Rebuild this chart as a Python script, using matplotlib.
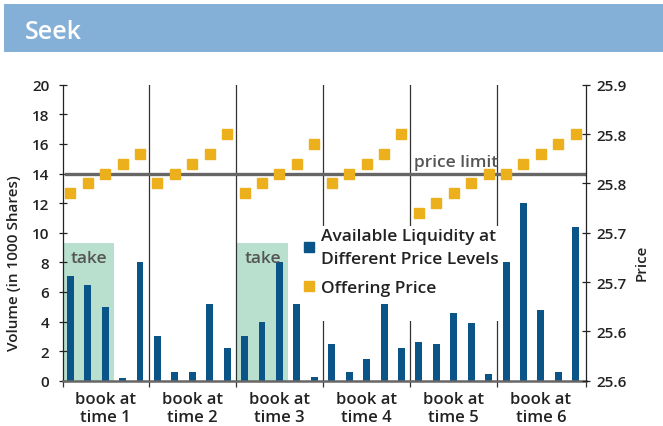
import matplotlib
matplotlib.use("Agg")
import matplotlib.pyplot as plt
from matplotlib.patches import Rectangle
from matplotlib.lines import Line2D
import numpy as np

plt.rcParams['font.family'] = ['Open Sans', 'DejaVu Sans']

# ---------------- data ----------------
group_labels = ["book at\ntime 1", "book at\ntime 2", "book at\ntime 3",
                "book at\ntime 4", "book at\ntime 5", "book at\ntime 6"]
bars_per_group = 5

volume_t1 = [7.1, 6.5, 5.0, 0.2, 8.0]
volume_t2 = [3.0, 0.6, 0.6, 5.2, 2.2]
volume_t3 = [3.0, 4.0, 8.0, 5.2, 0.25]
volume_t4 = [2.5, 0.6, 1.5, 5.2, 2.2]
volume_t5 = [2.6, 2.5, 4.6, 3.9, 0.45]
volume_t6 = [8.0, 12.0, 4.8, 0.6, 10.4]

price_t1 = [25.79, 25.80, 25.81, 25.82, 25.83]
price_t2 = [25.80, 25.81, 25.82, 25.83, 25.85]
price_t3 = [25.79, 25.80, 25.81, 25.82, 25.84]
price_t4 = [25.80, 25.81, 25.82, 25.83, 25.85]
price_t5 = [25.77, 25.78, 25.79, 25.80, 25.81]
price_t6 = [25.81, 25.82, 25.83, 25.84, 25.85]

price_limit = 25.81
take_groups = [0, 2]
take_height = 9.3

volume_ticks = [0, 2, 4, 6, 8, 10, 12, 14, 16, 18, 20]
price_ticks = [25.60, 25.65, 25.70, 25.75, 25.80, 25.85, 25.90]
price_tick_labels = ["25.6", "25.6", "25.7", "25.7", "25.8", "25.8", "25.9"]

legend_labels = ["Available Liquidity at\nDifferent Price Levels", "Offering Price"]

volume = volume_t1 + volume_t2 + volume_t3 + volume_t4 + volume_t5 + volume_t6
offer_price = price_t1 + price_t2 + price_t3 + price_t4 + price_t5 + price_t6

# ---------------- style ----------------
BLUE = '#0a5487'
ORANGE = '#edb01d'
TAKE = '#b9e0cf'
HEADER = '#84b0d8'
DARK = '#222222'
GRAY = '#555555'

W, H = 663, 427
fig = plt.figure(figsize=(W / 100, H / 100), dpi=100)


def fx(px):
    return px / W


def fy(py):
    return 1 - py / H


# header band + title
fig.patches.append(Rectangle((fx(4), fy(52.7)), 1 - fx(4), (52.7 - 5) / H,
                             transform=fig.transFigure, facecolor=HEADER,
                             edgecolor='none', zorder=0))
fig.text(fx(25), fy(39), "Seek", color='white', fontsize=18,
         fontweight='semibold', ha='left', va='baseline')

ax1 = fig.add_axes([fx(63.3), fy(381.7), fx(585.7) - fx(63.3), (381.7 - 85.7) / H])
ax2 = ax1.twinx()

n = len(volume)
x = np.arange(n) // bars_per_group * bars_per_group + np.arange(n) % bars_per_group
xlim = (-0.4, n - 0.43)

# take regions
for g in take_groups:
    left = g * bars_per_group - 0.45
    ax1.add_patch(Rectangle((left, 0), 2.95, take_height, facecolor=TAKE,
                            edgecolor='none', zorder=0.5))
    ax1.text(left + 0.47, 8.05, "take", color=GRAY, fontsize=12.5,
             fontweight='semibold', ha='left', va='baseline', zorder=3)

# separators
seps = [g * bars_per_group - 0.5 for g in range(1, len(group_labels))]
for s in seps:
    ax1.axvline(s, color='#333333', lw=0.9, zorder=1)

# white box behind legend
ax1.add_patch(Rectangle((12.6, 4.05), 12.1, 6.42, facecolor='white',
                        edgecolor='none', zorder=1.5))

ax1.bar(x, volume, width=0.4, color=BLUE, zorder=2)

ax1.set_xlim(*xlim)
ax1.set_ylim(0, 20)
ax1.set_yticks(volume_ticks)
ax1.set_xticks([g * bars_per_group + 2 for g in range(len(group_labels))])
ax1.set_xticklabels(group_labels, fontsize=12, fontweight='semibold',
                    color=DARK, linespacing=1.15)
ax1.set_xticks([xlim[0]] + seps + [xlim[1]], minor=True)
ax1.tick_params(axis='x', which='major', length=0, pad=7.5)
ax1.tick_params(axis='x', which='minor', direction='out', length=4.3,
                width=0.9, color='#333333')
ax1.tick_params(axis='y', direction='inout', length=6, width=0.9,
                color='#222222', pad=7, labelsize=11, labelcolor=DARK)
for lab in ax1.get_yticklabels():
    lab.set_fontweight('semibold')

for side in ['top', 'right']:
    ax1.spines[side].set_visible(False)
ax1.spines['left'].set_color('#222222')
ax1.spines['left'].set_linewidth(0.9)
ax1.spines['bottom'].set_color('#666666')
ax1.spines['bottom'].set_linewidth(1.8)

# price axis
ax2.set_ylim(25.6, 25.9)
ax2.axhline(price_limit, xmin=0.006, xmax=1, color='#666666', lw=2.4, zorder=2)
ax2.plot(x, offer_price, linestyle='none', marker='s', markersize=7.2,
         color=ORANGE, zorder=3)
ax2.annotate("price limit", xy=(19.72, price_limit), xytext=(0, 5.6),
             textcoords='offset points', color=GRAY, fontsize=12.5,
             fontweight='semibold', ha='left', va='baseline')
ax2.set_yticks(price_ticks)
ax2.set_yticklabels(price_tick_labels)
ax2.tick_params(axis='y', direction='inout', length=6, width=0.9,
                color='#222222', pad=5, labelsize=11, labelcolor=DARK)
for lab in ax2.get_yticklabels():
    lab.set_fontweight('semibold')
for side in ['top', 'left', 'bottom']:
    ax2.spines[side].set_visible(False)
ax2.spines['right'].set_color('#222222')
ax2.spines['right'].set_linewidth(0.9)

handles = [Line2D([], [], linestyle='none', marker='s', markersize=7.2, color=BLUE),
           Line2D([], [], linestyle='none', marker='s', markersize=7.2, color=ORANGE)]
leg = ax2.legend(handles, legend_labels, loc='upper left',
                 bbox_to_anchor=(fx(302), fy(229)), bbox_transform=fig.transFigure,
                 frameon=False, handlelength=0.8, handletextpad=0.3,
                 labelspacing=0.75, borderpad=0, borderaxespad=0,
                 prop={'size': 12.5, 'weight': 'semibold'})
for t in leg.get_texts():
    t.set_color(DARK)
    t.set_linespacing(1.55)

fig.text(fx(14), fy(263), "Volume (in 1000 Shares)", rotation=90, ha='center',
         va='center', fontsize=11, fontweight='semibold', color=DARK)
fig.text(fx(642), fy(263), "Price", rotation=90, ha='center', va='center',
         fontsize=11, fontweight='semibold', color=DARK)

fig.savefig("out.png", dpi=100)
